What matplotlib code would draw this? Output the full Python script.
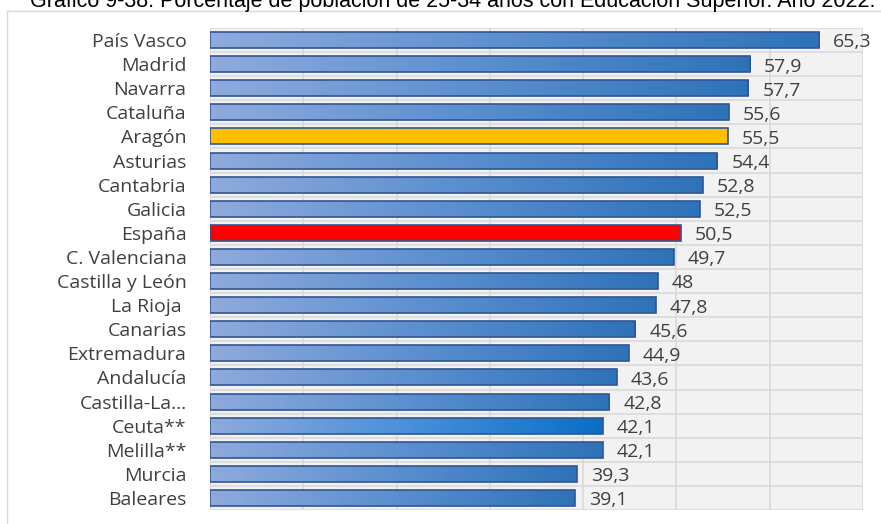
import matplotlib
matplotlib.use("Agg")
import matplotlib.pyplot as plt
import numpy as np
from matplotlib.colors import LinearSegmentedColormap
from matplotlib.patches import Rectangle

categories = ["País Vasco", "Madrid", "Navarra", "Cataluña", "Aragón", "Asturias",
              "Cantabria", "Galicia", "España", "C. Valenciana", "Castilla y León",
              "La Rioja ", "Canarias", "Extremadura", "Andalucía", "Castilla-La…",
              "Ceuta**", "Melilla**", "Murcia", "Baleares"]
values = [65.3, 57.9, 57.7, 55.6, 55.5, 54.4, 52.8, 52.5, 50.5, 49.7, 48, 47.8,
          45.6, 44.9, 43.6, 42.8, 42.1, 42.1, 39.3, 39.1]
labels = ["65,3", "57,9", "57,7", "55,6", "55,5", "54,4", "52,8", "52,5", "50,5",
          "49,7", "48", "47,8", "45,6", "44,9", "43,6", "42,8", "42,1", "42,1",
          "39,3", "39,1"]
highlight = {"Aragón": "#FFC000", "España": "#FF0000"}
title = "Gráfico 9-38. Porcentaje de población de 25-34 años con Educación Superior. Año 2022."

W, H = 881, 524
fig = plt.figure(figsize=(W / 100, H / 100), dpi=100)

# outer frame
fig.patches.append(Rectangle((7 / W, -0.01), 1.0, (H - 11) / H + 0.01,
                             transform=fig.transFigure, fill=False,
                             edgecolor="#D9D9D9", linewidth=1.0))
fig.text(30 / W, 1 - 7 / H, title, ha="left", va="baseline",
         fontsize=15.5, family="Liberation Sans", color="#000000")

ax = fig.add_axes([210 / W, 1 - 510 / H, (863 - 210) / W, (510 - 28) / H])
ax.set_facecolor("#F2F2F2")
n = len(categories)
ax.set_xlim(0, 70)
ax.set_ylim(n - 0.5, -0.5)
ax.set_xticks(np.arange(0, 71, 10))
ax.set_xticklabels([])
ax.tick_params(axis="x", length=0)
ax.set_yticks(range(n))
ax.set_yticklabels(categories, fontsize=14, family="Open Sans", color="#404040")
ax.tick_params(axis="y", length=0, pad=17)
for s in ax.spines.values():
    s.set_visible(False)
for x in np.arange(10, 71, 10):
    ax.axvline(x, color="#D9D9D9", lw=1.2, zorder=0)
for y in np.arange(-0.5, n, 1):
    ax.axhline(y, color="#D9D9D9", lw=1.2, zorder=0)
ax.axvline(0, color="#D9D9D9", lw=1.2, zorder=0)

cmap = LinearSegmentedColormap.from_list("g", ["#8FAADC", "#5B8FCF", "#2E72B8"])
cmap_ceuta = LinearSegmentedColormap.from_list("g2", ["#8FAADC", "#4A90DA", "#0A6FC4"])
grad = np.linspace(0, 1, 256).reshape(1, -1)
bh = 0.66
for i, (c, v, lab) in enumerate(zip(categories, values, labels)):
    if c in highlight:
        ax.barh(i, v, height=bh, color=highlight[c], edgecolor="#2F5597",
                linewidth=1.2, zorder=2)
    else:
        cm = cmap_ceuta if c.startswith("Ceuta") else cmap
        ax.imshow(grad, cmap=cm, aspect="auto", extent=(0, v, i + bh / 2, i - bh / 2),
                  zorder=2, interpolation="bilinear")
        ax.barh(i, v, height=bh, color="none", edgecolor="#2F5597",
                linewidth=1.2, zorder=3)
    ax.text(v + 1.5, i + 0.1, lab, va="center", ha="left", fontsize=14,
            family="Open Sans", color="#404040", zorder=4)

ax.set_xlim(0, 70)
ax.set_ylim(n - 0.5, -0.5)
fig.savefig("out.png", dpi=100)
